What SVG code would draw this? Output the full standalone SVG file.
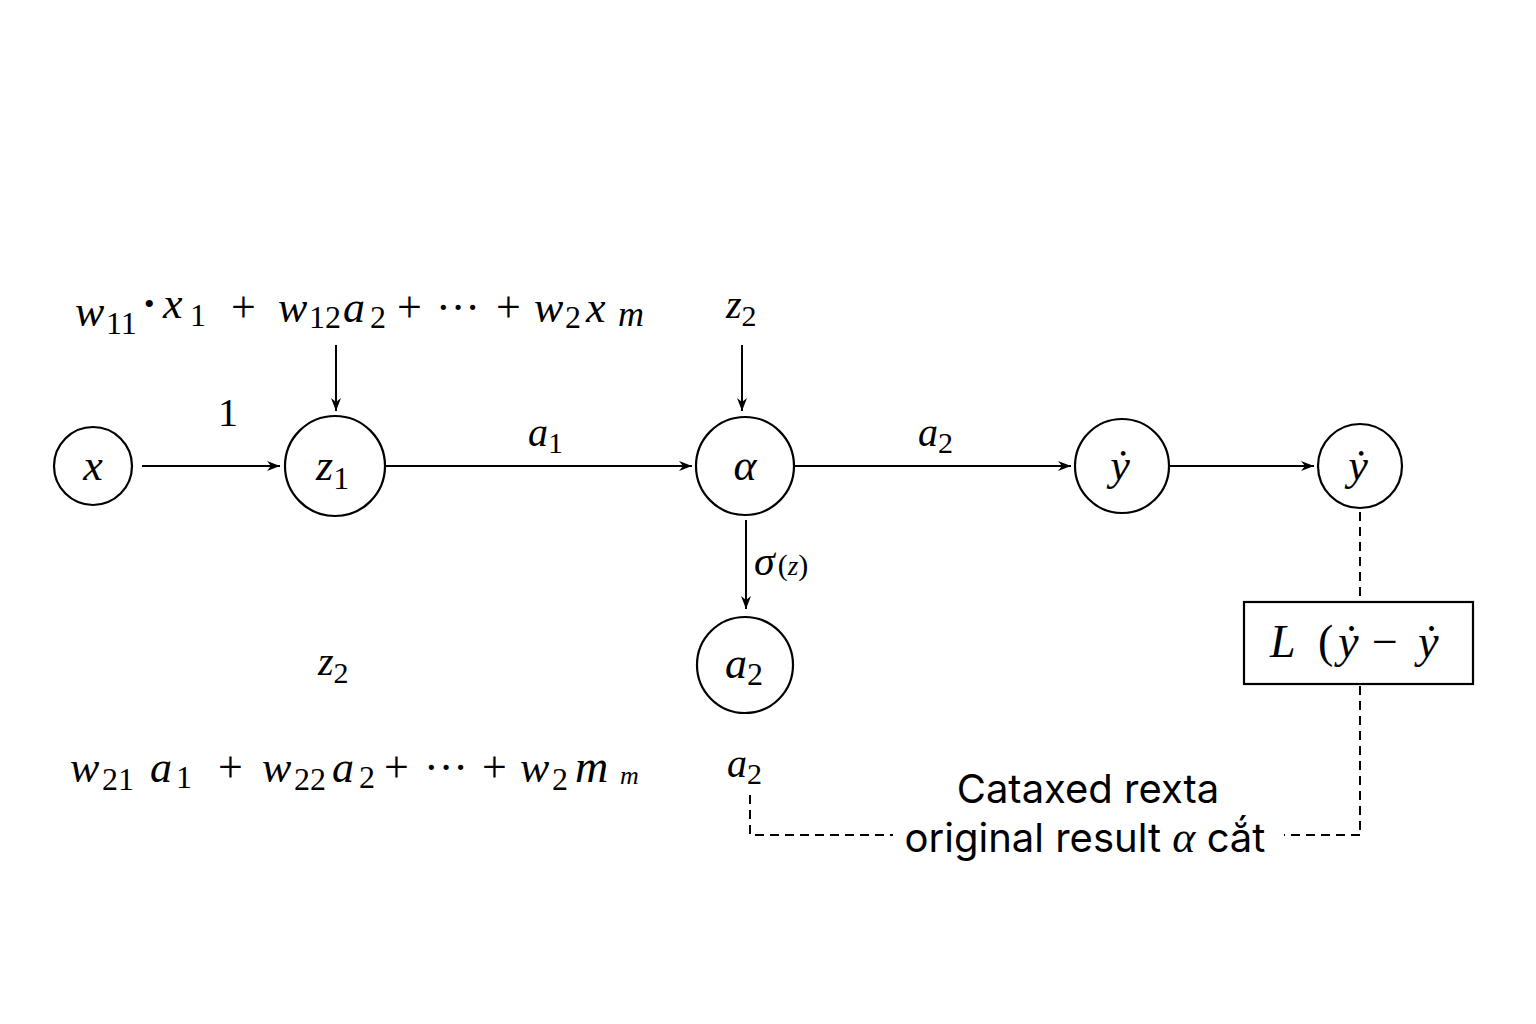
<svg xmlns="http://www.w3.org/2000/svg" width="1536" height="1024" viewBox="0 0 1536 1024">
<style>
.n{fill:#fff;stroke:#000;stroke-width:2.2}
.e{stroke:#000;stroke-width:2;fill:none}
.d{stroke:#000;stroke-width:2;fill:none;stroke-dasharray:9 6}
.m{font-family:"Liberation Serif","DejaVu Serif",serif;font-style:italic;fill:#000}
.r{font-family:"Liberation Serif","DejaVu Serif",serif;font-style:normal;fill:#000}
.s{font-family:"Inter","Liberation Sans",sans-serif;fill:#000}
</style>
<defs>
<marker id="ah" markerWidth="14" markerHeight="10" refX="13" refY="5" orient="auto" markerUnits="userSpaceOnUse">
<path d="M0,0 L13,5 L0,10 L4,5 Z" fill="#000"/>
</marker>
</defs>
<rect width="1536" height="1024" fill="#fff"/>
<g id="connectors">
<line class="e" x1="142" y1="466" x2="280" y2="466" marker-end="url(#ah)"/>
<line class="e" x1="385" y1="466" x2="692" y2="466" marker-end="url(#ah)"/>
<line class="e" x1="795" y1="466" x2="1071" y2="466" marker-end="url(#ah)"/>
<line class="e" x1="1170" y1="466" x2="1314" y2="466" marker-end="url(#ah)"/>
<line class="e" x1="336" y1="345" x2="336" y2="411" marker-end="url(#ah)"/>
<line class="e" x1="742" y1="345" x2="742" y2="411" marker-end="url(#ah)"/>
<line class="e" x1="746" y1="520" x2="746" y2="609" marker-end="url(#ah)"/>
<line class="d" x1="1360" y1="512" x2="1360" y2="602"/>
<line class="d" x1="1360" y1="686" x2="1360" y2="835"/>
<polyline class="d" points="1360,835 1284,835"/>
<polyline class="d" points="750,795 750,835 893,835"/>
</g>
<g id="node-x"><circle class="n" cx="93" cy="466" r="39"/><text class="m" x="93" y="480" font-size="44" text-anchor="middle">x</text></g>
<g id="node-z1"><circle class="n" cx="335" cy="466" r="50"/><text class="m" x="316" y="480" font-size="44">z<tspan class="r" font-size="32" dy="9">1</tspan></text></g>
<g id="node-alpha"><circle class="n" cx="745" cy="466" r="49"/><text class="m" x="745" y="480" font-size="44" text-anchor="middle">α</text></g>
<g id="node-ydot1"><circle class="n" cx="1122" cy="466" r="47"/><text class="m" x="1120" y="480" font-size="44" text-anchor="middle">ẏ</text></g>
<g id="node-ydot2"><circle class="n" cx="1360" cy="466" r="42"/><text class="m" x="1358" y="480" font-size="44" text-anchor="middle">ẏ</text></g>
<g id="node-a2"><circle class="n" cx="745" cy="665" r="48"/><text class="m" x="725" y="678" font-size="44">a<tspan class="r" font-size="32" dy="7">2</tspan></text></g>
<g id="node-loss"><rect class="n" x="1244" y="602" width="229" height="82"/><text class="m" y="657" font-size="46"><tspan x="1270">L</tspan><tspan class="r" x="1318">(</tspan><tspan x="1338">ẏ</tspan><tspan class="r" x="1372">−</tspan><tspan x="1418">ẏ</tspan></text></g>
<g id="labels">
<text class="r" x="228" y="426" font-size="40" text-anchor="middle">1</text>
<text class="m" x="528" y="446" font-size="40">a<tspan class="r" font-size="30" dy="7">1</tspan></text>
<text class="m" x="918" y="446" font-size="40">a<tspan class="r" font-size="30" dy="7">2</tspan></text>
<text class="m" x="726" y="318" font-size="40">z<tspan class="r" font-size="30" dy="8">2</tspan></text>
<text class="m" x="318" y="675" font-size="40">z<tspan class="r" font-size="30" dy="8">2</tspan></text>
<text class="m" x="727" y="777" font-size="40">a<tspan class="r" font-size="30" dy="7">2</tspan></text>
<text class="m" x="754" y="575" font-size="42">σ<tspan class="r" font-size="30" dx="3">(</tspan><tspan font-size="27">z</tspan><tspan class="r" font-size="30">)</tspan></text>
<text class="m" font-size="44" y="326"><tspan x="75">w</tspan><tspan class="r" font-size="32" x="106" dy="8">11</tspan><tspan class="r" font-size="30" x="144" dy="-20">•</tspan><tspan x="163" dy="4">x</tspan><tspan class="r" font-size="32" x="190" dy="8">1</tspan><tspan class="r" x="231" dy="-4">+</tspan><tspan x="278">w</tspan><tspan class="r" font-size="32" x="309" dy="6">12</tspan><tspan x="343" dy="-6">a</tspan><tspan class="r" font-size="32" x="370" dy="6">2</tspan><tspan class="r" x="397" dy="-6">+</tspan><tspan class="r" x="436">···</tspan><tspan class="r" x="496">+</tspan><tspan x="534">w</tspan><tspan class="r" font-size="32" x="565" dy="6">2</tspan><tspan x="586" dy="-6">x</tspan><tspan font-size="36" x="618" dy="4">m</tspan></text>
<text class="m" font-size="44" y="782"><tspan x="70">w</tspan><tspan class="r" font-size="32" x="102" dy="8">21</tspan><tspan x="150" dy="-8">a</tspan><tspan class="r" font-size="32" x="176" dy="6">1</tspan><tspan class="r" x="218" dy="-6">+</tspan><tspan x="262">w</tspan><tspan class="r" font-size="32" x="294" dy="8">22</tspan><tspan x="332" dy="-8">a</tspan><tspan class="r" font-size="32" x="359" dy="6">2</tspan><tspan class="r" x="384" dy="-6">+</tspan><tspan class="r" x="424">···</tspan><tspan class="r" x="482">+</tspan><tspan x="520">w</tspan><tspan class="r" font-size="32" x="552" dy="8">2</tspan><tspan x="575" dy="-8" font-size="46">m</tspan><tspan font-size="26" x="620" dy="2">m</tspan></text>
<text class="s" x="1088" y="803" font-size="40" text-anchor="middle">Cataxed rexta</text>
<text class="s" x="1085" y="852" font-size="40" text-anchor="middle">original result <tspan class="m" font-size="44">α</tspan> cắt</text>
</g>
</svg>
